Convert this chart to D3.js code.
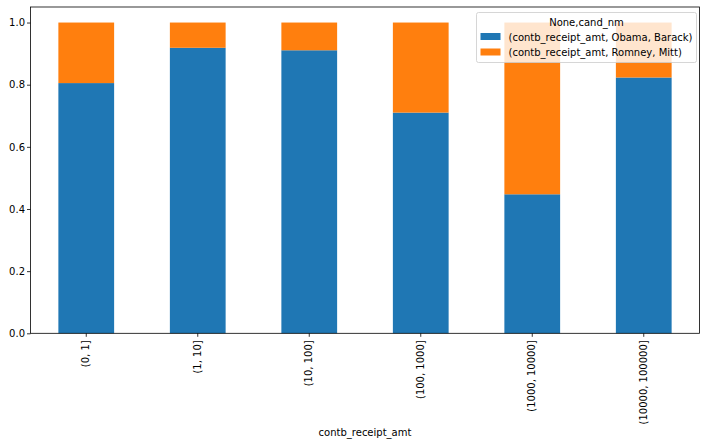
<!DOCTYPE html>
<html><head><meta charset="utf-8">
<script src="https://cdn.jsdelivr.net/npm/d3@7"></script>
<style>body{margin:0;background:#fff;} text{font-family:"DejaVu Sans",sans-serif;}</style>
</head><body>
<svg id="chart" width="706" height="446"></svg>
<script>
const categories = ["(0, 1]", "(1, 10]", "(10, 100]", "(100, 1000]", "(1000, 10000]", "(10000, 100000]"];
const obama = [0.805182, 0.918767, 0.910769, 0.710176, 0.447326, 0.823120];
const romney = [0.194818, 0.081233, 0.089231, 0.289824, 0.552674, 0.176880];
const seriesNames = ["(contb_receipt_amt, Obama, Barack)", "(contb_receipt_amt, Romney, Mitt)"];
const colors = ["#1f77b4", "#ff7f0e"];
const yTicks = [0, 0.2, 0.4, 0.6, 0.8, 1.0];

const svg = d3.select("#chart");
const L = 30.5, R = 699.5, T = 7, B = 333.3;
const x = d3.scaleBand().domain(categories).range([L, R]).paddingInner(0.5).paddingOuter(0.25);
const y = d3.scaleLinear().domain([0, 1.05]).range([B, T]);

const rows = categories.map((c, i) => ({cat: c, obama: obama[i], romney: romney[i]}));
const stack = d3.stack().keys(["obama", "romney"])(rows);

svg.append("g").selectAll("g").data(stack).join("g")
  .attr("fill", (d, i) => colors[i])
  .selectAll("rect").data(d => d).join("rect")
  .attr("x", d => x(d.data.cat))
  .attr("width", x.bandwidth())
  .attr("y", d => y(d[1]))
  .attr("height", d => y(d[0]) - y(d[1]));

// axes
const yAxis = svg.append("g").attr("transform", `translate(${L},0)`)
  .call(d3.axisLeft(y).tickValues(yTicks).tickFormat(d3.format(".1f")).tickSize(3.5).tickSizeOuter(0));
yAxis.select(".domain").remove();
yAxis.selectAll("line").attr("stroke", "#000").attr("stroke-width", 0.8);
yAxis.selectAll("text").attr("font-size", 10).attr("fill", "#000").attr("x", -5.5);

const xAxis = svg.append("g").attr("transform", `translate(0,${B})`)
  .call(d3.axisBottom(x).tickSize(3.5).tickSizeOuter(0));
xAxis.select(".domain").remove();
xAxis.selectAll("line").attr("stroke", "#000").attr("stroke-width", 0.8);
xAxis.selectAll("text").attr("font-size", 10).attr("fill", "#000")
  .attr("transform", "rotate(-90)")
  .attr("x", -7).attr("y", 0).attr("dy", "0.32em")
  .attr("text-anchor", "end");

// frame
svg.append("rect").attr("x", L).attr("y", T).attr("width", R - L).attr("height", B - T)
  .attr("fill", "none").attr("stroke", "#000").attr("stroke-width", 0.8);

svg.append("text").attr("x", (L + R) / 2).attr("y", 436).attr("text-anchor", "middle")
  .attr("font-size", 10).text("contb_receipt_amt");

// legend
const lg = svg.append("g");
lg.append("rect").attr("x", 476.5).attr("y", 12.5).attr("width", 220).attr("height", 50)
  .attr("rx", 2).attr("fill", "#fff").attr("fill-opacity", 0.8).attr("stroke", "#ccc").attr("stroke-width", 0.8);
lg.append("text").attr("x", 586.5).attr("y", 26).attr("text-anchor", "middle").attr("font-size", 10).text("None,cand_nm");
seriesNames.forEach((n, i) => {
  const yy = 33 + i * 15.5;
  lg.append("rect").attr("x", 480.5).attr("y", yy).attr("width", 20).attr("height", 7).attr("fill", colors[i]);
  lg.append("text").attr("x", 508.5).attr("y", yy + 7.5).attr("font-size", 10).text(n);
});
</script>
</body></html>
